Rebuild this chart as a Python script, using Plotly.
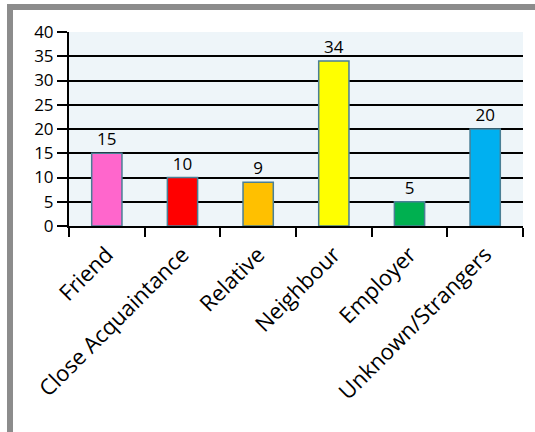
import plotly.graph_objects as go

categories = ["Friend", "Close Acquaintance", "Relative", "Neighbour", "Employer", "Unknown/Strangers"]
values = [15, 10, 9, 34, 5, 20]
bar_colors = ["#FF66CC", "#FF0000", "#FFC000", "#FFFF00", "#00B050", "#00B0F0"]
y_ticks = [0, 5, 10, 15, 20, 25, 30, 35, 40]

W, H = 535, 432
L, R, T, B = 69, 12, 32, 206

fig = go.Figure()
fig.add_trace(go.Bar(
    x=categories, y=values,
    marker=dict(color=bar_colors, line=dict(color="#4A7F95", width=1.5)),
    width=0.4,
    text=[str(v) for v in values],
    textposition="outside",
    textfont=dict(family="Open Sans", size=17, color="#000000"),
    cliponaxis=False,
))

fig.update_layout(
    width=W, height=H,
    margin=dict(l=L, r=R, t=T, b=B, pad=0),
    paper_bgcolor="white",
    plot_bgcolor="#EEF5F9",
    font=dict(family="Open Sans", size=15, color="#000000"),
    showlegend=False,
    xaxis=dict(
        tickangle=-45,
        ticks="outside", ticklen=9, tickwidth=1.5, tickcolor="black",
        tickson="boundaries",
        ticklabelstandoff=5,
        showgrid=False,
        showline=True, linecolor="black", linewidth=2,
        tickfont=dict(family="Open Sans", size=22),
        automargin=False,
    ),
    yaxis=dict(
        range=[0, 40],
        tickvals=y_ticks,
        ticks="outside", ticklen=10, tickwidth=1.5, tickcolor="black",
        showgrid=True, gridcolor="black", gridwidth=2,
        showline=True, linecolor="black", linewidth=2,
        zeroline=False,
        tickfont=dict(family="Open Sans", size=17),
        automargin=False,
    ),
    shapes=[
        # gray frame, top and left edges
        dict(type="rect", xref="paper", yref="paper",
             x0=(7 - L) / (W - L - R), x1=(W - L) / (W - L - R),
             y0=1 + (T - 10) / (H - T - B), y1=1 + (T - 4) / (H - T - B),
             fillcolor="#8C8C8C", line=dict(width=0), layer="above"),
        dict(type="rect", xref="paper", yref="paper",
             x0=(7 - L) / (W - L - R), x1=(13 - L) / (W - L - R),
             y0=-(B) / (H - T - B), y1=1 + (T - 4) / (H - T - B),
             fillcolor="#8C8C8C", line=dict(width=0), layer="above"),
    ],
)

fig.write_html("out.html")
